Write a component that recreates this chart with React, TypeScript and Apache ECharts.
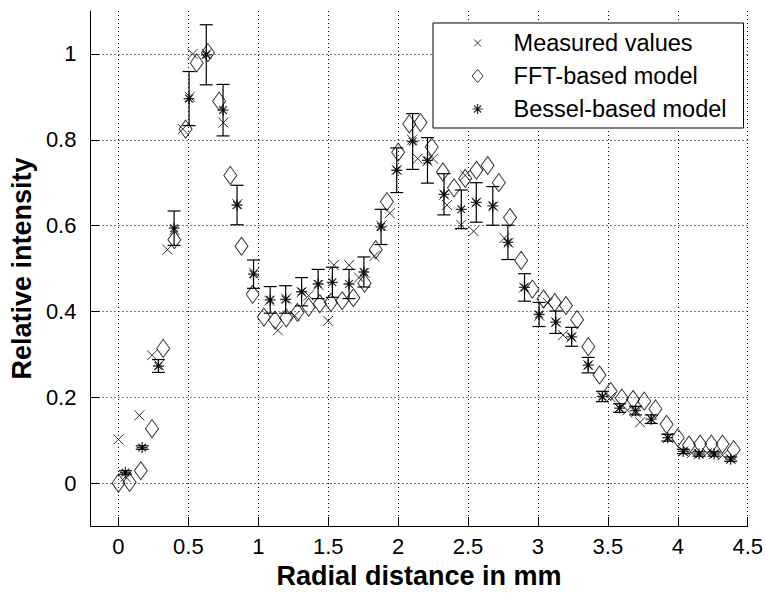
import React, { useEffect, useRef } from "react";
import * as echarts from "echarts";

// ---- data ----
const xTicks = [0, 0.5, 1, 1.5, 2, 2.5, 3, 3.5, 4, 4.5];
const yTicks = [0, 0.2, 0.4, 0.6, 0.8, 1];

const measuredX = [0.0, 0.05, 0.15, 0.24, 0.29, 0.35, 0.4, 0.46, 0.51, 0.53, 0.63, 0.75, 0.85, 0.97, 1.08, 1.14, 1.2, 1.26, 1.31, 1.36, 1.43, 1.5, 1.54, 1.65, 1.72, 1.76, 1.83, 1.88, 1.94, 1.99, 2.1, 2.14, 2.21, 2.25, 2.33, 2.35, 2.45, 2.48, 2.54, 2.56, 2.68, 2.76, 2.79, 2.9, 3.01, 3.07, 3.13, 3.18, 3.24, 3.36, 3.46, 3.52, 3.58, 3.64, 3.7, 3.73, 3.81, 3.93, 4.04, 4.1, 4.15, 4.21, 4.26, 4.32, 4.38];
const measuredY = [0.102, 0.015, 0.158, 0.298, 0.275, 0.544, 0.59, 0.825, 0.9, 1.0, 1.0, 0.84, 0.65, 0.49, 0.425, 0.356, 0.43, 0.39, 0.445, 0.437, 0.462, 0.378, 0.508, 0.508, 0.479, 0.49, 0.529, 0.6, 0.629, 0.73, 0.8, 0.756, 0.75, 0.756, 0.672, 0.648, 0.602, 0.717, 0.587, 0.654, 0.645, 0.571, 0.56, 0.456, 0.39, 0.42, 0.375, 0.345, 0.34, 0.275, 0.2, 0.2, 0.175, 0.17, 0.165, 0.142, 0.15, 0.105, 0.074, 0.07, 0.068, 0.07, 0.068, 0.065, 0.056];

const fftX = [0, 0.08, 0.16, 0.24, 0.32, 0.4, 0.48, 0.56, 0.64, 0.72, 0.8, 0.88, 0.96, 1.04, 1.12, 1.2, 1.28, 1.36, 1.44, 1.52, 1.6, 1.68, 1.76, 1.84, 1.92, 2.0, 2.08, 2.16, 2.24, 2.32, 2.4, 2.48, 2.56, 2.64, 2.72, 2.8, 2.88, 2.96, 3.04, 3.12, 3.2, 3.28, 3.36, 3.44, 3.52, 3.6, 3.68, 3.76, 3.84, 3.92, 4.0, 4.08, 4.16, 4.24, 4.32, 4.4];
const fftY = [0.0, 0.002, 0.029, 0.127, 0.314, 0.567, 0.825, 0.979, 1.003, 0.89, 0.717, 0.552, 0.44, 0.387, 0.38, 0.385, 0.398, 0.41, 0.418, 0.421, 0.425, 0.432, 0.466, 0.544, 0.656, 0.771, 0.837, 0.84, 0.783, 0.725, 0.688, 0.71, 0.729, 0.74, 0.7, 0.619, 0.519, 0.452, 0.429, 0.421, 0.414, 0.381, 0.318, 0.252, 0.214, 0.198, 0.195, 0.191, 0.173, 0.137, 0.106, 0.089, 0.091, 0.091, 0.091, 0.078];

const besselX = [0.05, 0.17, 0.286, 0.398, 0.505, 0.628, 0.748, 0.848, 0.966, 1.085, 1.196, 1.31, 1.428, 1.53, 1.649, 1.755, 1.878, 1.99, 2.104, 2.21, 2.328, 2.452, 2.559, 2.677, 2.785, 2.904, 3.008, 3.127, 3.241, 3.359, 3.461, 3.584, 3.698, 3.81, 3.928, 4.039, 4.153, 4.26, 4.378];
const besselY = [0.025, 0.083, 0.273, 0.594, 0.896, 0.998, 0.869, 0.648, 0.487, 0.427, 0.428, 0.446, 0.464, 0.468, 0.464, 0.492, 0.597, 0.729, 0.796, 0.752, 0.673, 0.638, 0.654, 0.646, 0.561, 0.456, 0.393, 0.375, 0.341, 0.275, 0.202, 0.175, 0.169, 0.149, 0.106, 0.074, 0.068, 0.068, 0.056];
const besselErr = [0.004, 0.004, 0.015, 0.04, 0.063, 0.07, 0.06, 0.046, 0.033, 0.031, 0.032, 0.033, 0.034, 0.035, 0.034, 0.035, 0.041, 0.052, 0.065, 0.053, 0.048, 0.045, 0.046, 0.045, 0.04, 0.032, 0.028, 0.026, 0.022, 0.018, 0.012, 0.01, 0.01, 0.01, 0.008, 0.005, 0.005, 0.005, 0.005];

const seriesNames = ["Measured values", "FFT-based model", "Bessel-based model"];

const FONT = "'Liberation Sans', Arial, Helvetica, sans-serif";

const SYM_X = "path://M0,0L10,10M10,0L0,10";
const SYM_DIAMOND = "path://M6,0L12,8L6,16L0,8Z";
const SYM_STAR = "path://M5,0L5,10M0,5L10,5M1.5,1.5L8.5,8.5M8.5,1.5L1.5,8.5M3.9,3.9L6.1,3.9L6.1,6.1L3.9,6.1Z";

const ICON_X = "path://M0,0M14,14M3.5,3.5L10.5,10.5M10.5,3.5L3.5,10.5";
const ICON_DIAMOND = "path://M0,0M14,14M7,0.5L12.5,7L7,13.5L1.5,7Z";
const ICON_STAR = "path://M0,0M14,14M7,2L7,12M2,7L12,7M3.5,3.5L10.5,10.5M10.5,3.5L3.5,10.5M6,6L8,6L8,8L6,8Z";

export default function App() {
  const ref = useRef<HTMLDivElement | null>(null);

  useEffect(() => {
    document.body.style.margin = "0";
    if (!ref.current) return;
    const chart = echarts.init(ref.current, undefined, { renderer: "svg" });

    const measured = measuredX.map((x, i) => [x, measuredY[i]]);
    const fft = fftX.map((x, i) => [x, fftY[i]]);
    const bessel = besselX.map((x, i) => [x, besselY[i]]);
    const errBars = besselX.map((x, i) => [x, besselY[i] - besselErr[i], besselY[i] + besselErr[i]]);

    const axisText = { color: "#000", fontFamily: FONT, fontSize: 22 };
    const nameText = { color: "#000", fontFamily: FONT, fontSize: 27, fontWeight: "bold" as const };
    const gridLine = { show: true, lineStyle: { color: "#000", width: 1, type: [1, 3] as any } };

    chart.setOption({
      animation: false,
      backgroundColor: "#fff",
      grid: { left: 88, right: 17, top: 11, bottom: 62, containLabel: false },
      legend: {
        show: true,
        orient: "vertical",
        left: 433,
        top: 23,
        selectedMode: false,
        backgroundColor: "#fff",
        borderColor: "#000",
        borderWidth: 1,
        borderRadius: 0,
        padding: [8, 17, 7, 37],
        itemWidth: 62,
        itemHeight: 14,
        itemGap: 9,
        symbolKeepAspect: true,
        textStyle: { color: "#000", fontFamily: FONT, fontSize: 23.5 },
        data: [
          { name: seriesNames[0], icon: ICON_X, itemStyle: { color: "rgba(0,0,0,0)", borderColor: "#000", borderWidth: 1 } },
          { name: seriesNames[1], icon: ICON_DIAMOND, itemStyle: { color: "rgba(0,0,0,0)", borderColor: "#000", borderWidth: 1 } },
          { name: seriesNames[2], icon: ICON_STAR, itemStyle: { color: "#000", borderColor: "#000", borderWidth: 1.2 } },
        ],
      },
      xAxis: {
        type: "value",
        min: -0.2,
        max: 4.5,
        name: "Radial distance in mm",
        nameLocation: "middle",
        nameGap: 30,
        nameTextStyle: nameText,
        axisLine: { show: true, onZero: false, lineStyle: { color: "#000", width: 1 } },
        axisTick: { show: true, inside: true, length: 9, customValues: xTicks, lineStyle: { color: "#000", width: 1 } },
        axisLabel: { show: true, margin: 9, customValues: xTicks, ...axisText },
        splitLine: gridLine,
      },
      yAxis: {
        type: "value",
        min: -0.1,
        max: 1.1,
        name: "Relative intensity",
        nameLocation: "middle",
        nameGap: 52,
        nameTextStyle: nameText,
        axisLine: { show: true, onZero: false, lineStyle: { color: "#000", width: 1 } },
        axisTick: { show: true, inside: true, length: 9, customValues: yTicks, lineStyle: { color: "#000", width: 1 } },
        axisLabel: { show: true, margin: 14, customValues: yTicks, ...axisText },
        splitLine: gridLine,
      },
      series: [
        {
          type: "custom",
          name: "errorbars",
          data: errBars,
          encode: { x: 0, y: [1, 2] },
          z: 2,
          renderItem: (params: any, api: any) => {
            const x = api.value(0);
            const lo = api.coord([x, api.value(1)]);
            const hi = api.coord([x, api.value(2)]);
            const w = 6.5;
            const style = { stroke: "#000", lineWidth: 1.2, fill: null };
            return {
              type: "group",
              children: [
                { type: "line", shape: { x1: lo[0], y1: lo[1], x2: hi[0], y2: hi[1] }, style },
                { type: "line", shape: { x1: lo[0] - w, y1: lo[1], x2: lo[0] + w, y2: lo[1] }, style },
                { type: "line", shape: { x1: hi[0] - w, y1: hi[1], x2: hi[0] + w, y2: hi[1] }, style },
              ],
            };
          },
        },
        {
          type: "scatter",
          name: seriesNames[1],
          data: fft,
          symbol: SYM_DIAMOND,
          symbolSize: [13, 18],
          itemStyle: { color: "rgba(0,0,0,0)", borderColor: "#000", borderWidth: 1 },
          z: 3,
        },
        {
          type: "scatter",
          name: seriesNames[0],
          data: measured,
          symbol: SYM_X,
          symbolSize: 10,
          itemStyle: { color: "rgba(0,0,0,0)", borderColor: "#000", borderWidth: 1 },
          z: 4,
        },
        {
          type: "scatter",
          name: seriesNames[2],
          data: bessel,
          symbol: SYM_STAR,
          symbolSize: 11,
          itemStyle: { color: "#000", borderColor: "#000", borderWidth: 1.3 },
          z: 5,
        },
      ],
    });

    return () => chart.dispose();
  }, []);

  return <div ref={ref} style={{ width: 766, height: 594 }} />;
}
